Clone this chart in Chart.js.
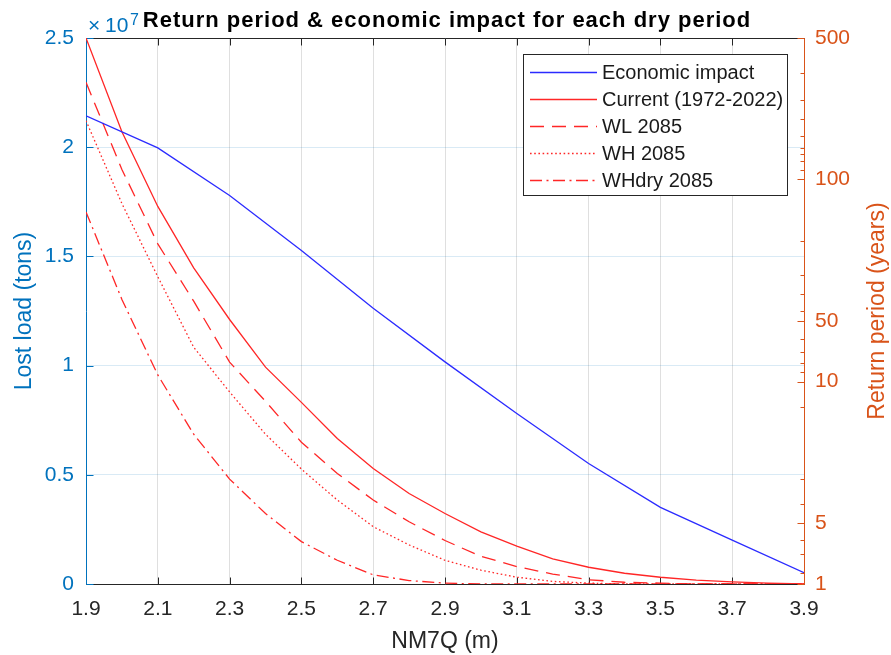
<!DOCTYPE html>
<html>
<head>
<meta charset="utf-8">
<script src="https://cdn.jsdelivr.net/npm/chart.js@4/dist/chart.umd.min.js"></script>
<style>
  html, body { margin: 0; padding: 0; background: #ffffff; }
  canvas { display: block; }
</style>
</head>
<body>
<canvas id="chart" width="891" height="655"></canvas>
<script>
// NM7Q water level (m)
const depthTicks  = [1.9, 2.1, 2.3, 2.5, 2.7, 2.9, 3.1, 3.3, 3.5, 3.7, 3.9];
const depthCoarse = [1.9, 2.1, 2.3, 2.5, 2.7, 2.9, 3.1, 3.3, 3.5, 3.7, 3.9];
const depthFine   = [1.9, 2.0, 2.1, 2.2, 2.3, 2.4, 2.5, 2.6, 2.7, 2.8, 2.9,
                     3.0, 3.1, 3.2, 3.3, 3.4, 3.5, 3.6, 3.7, 3.8, 3.9];

// Lost load (tons) per NM7Q level
const economicImpact = [2.144e7, 1.997e7, 1.779e7, 1.527e7, 1.263e7, 1.017e7,
                        0.781e7, 0.552e7, 0.351e7, 0.201e7, 0.052e7];

// Return periods (years) per NM7Q level
const currentRP = [500, 172, 73.5, 36.5, 20.3, 11.8, 7.9, 5.24, 3.72, 2.80, 2.23,
                   1.81, 1.54, 1.33, 1.21, 1.13, 1.08, 1.045, 1.025, 1.01, 1.0];
const wl2085RP  = [302, 112, 48, 25, 12.5, 8.0, 5.02, 3.52, 2.60, 2.03, 1.64,
                   1.37, 1.22, 1.12, 1.05, 1.02, 1.01, 1.0, 1.0, 1.0, 1.0];
const wh2085RP  = [195, 76, 33, 14.8, 8.9, 5.5, 3.7, 2.6, 1.92, 1.56, 1.31,
                   1.17, 1.08, 1.03, 1.01, 1.0, 1.0, 1.0, 1.0, 1.0, 1.0];
const whdryRP   = [69, 25.5, 10.8, 5.5, 3.3, 2.23, 1.62, 1.31, 1.11, 1.04, 1.01,
                   1.0, 1.0, 1.0, 1.0, 1.0, 1.0, 1.0, 1.0, 1.0, 1.0];

// Axis ticks
const lostLoadTicks    = [0, 0.5e7, 1e7, 1.5e7, 2e7, 2.5e7];
const returnTickValues = [1, 2, 10, 20, 100, 500];
const returnTickLabels = ['1', '5', '10', '50', '100', '500'];
const returnMinorTicks = [1.13, 1.40, 1.65, 2.48, 3.3, 7.5, 11.2, 12.4, 14.0, 16.3,
                          22.3, 27.2, 33.5, 49.5, 111, 123, 133, 143, 164, 200, 248, 334];

const BLUE_AXIS = '#0072BD';
const ORANGE_AXIS = '#D95319';
const DARK = '#262626';
const FONT = "'Liberation Sans', Arial, Helvetica, sans-serif";
const LINE_BLUE = '#2b2bff';
const LINE_RED = '#ff2626';

const pairs = (xs, ys) => xs.map((x, i) => ({ x: x, y: ys[i] }));

const datasets = [
  { label: 'Economic impact', data: pairs(depthCoarse, economicImpact), yAxisID: 'y',
    borderColor: LINE_BLUE, borderWidth: 1.3, borderDash: [] },
  { label: 'Current (1972-2022)', data: pairs(depthFine, currentRP), yAxisID: 'y2',
    borderColor: LINE_RED, borderWidth: 1.3, borderDash: [] },
  { label: 'WL 2085', data: pairs(depthFine, wl2085RP), yAxisID: 'y2',
    borderColor: LINE_RED, borderWidth: 1.3, borderDash: [14, 8] },
  { label: 'WH 2085', data: pairs(depthFine, wh2085RP), yAxisID: 'y2',
    borderColor: LINE_RED, borderWidth: 1.3, borderDash: [1.6, 2.6] },
  { label: 'WHdry 2085', data: pairs(depthFine, whdryRP), yAxisID: 'y2',
    borderColor: LINE_RED, borderWidth: 1.3, borderDash: [12, 4.5, 2, 4.5] }
].map(d => Object.assign(d, { pointRadius: 0, tension: 0, fill: false }));

const crisp = v => Math.round(v) + 0.5;

function seg(ctx, x1, y1, x2, y2) {
  ctx.beginPath();
  ctx.moveTo(x1, y1);
  ctx.lineTo(x2, y2);
  ctx.stroke();
}

// Box, axis lines and inward tick marks
const axesFrame = {
  id: 'axesFrame',
  beforeDatasetsDraw(chart) {
    const { ctx, chartArea: a, scales } = chart;
    const L = crisp(a.left), R = crisp(a.right), T = crisp(a.top), B = crisp(a.bottom);
    ctx.save();
    ctx.lineWidth = 1;
    ctx.strokeStyle = DARK;
    seg(ctx, L, T, R, T);
    seg(ctx, L, B, R, B);
    depthTicks.forEach(v => {
      const px = crisp(scales.x.getPixelForValue(v));
      seg(ctx, px, B, px, B - 7);
      seg(ctx, px, T, px, T + 7);
    });
    ctx.strokeStyle = BLUE_AXIS;
    seg(ctx, L, T, L, B);
    lostLoadTicks.forEach(v => {
      const py = crisp(scales.y.getPixelForValue(v));
      seg(ctx, L, py, L + 7, py);
    });
    ctx.strokeStyle = ORANGE_AXIS;
    seg(ctx, R, T, R, B);
    returnTickValues.forEach(v => {
      const py = crisp(scales.y2.getPixelForValue(v));
      seg(ctx, R, py, R - 7, py);
    });
    returnMinorTicks.forEach(v => {
      const py = crisp(scales.y2.getPixelForValue(v));
      seg(ctx, R, py, R - 4, py);
    });
    ctx.restore();
  }
};

// Legend box inside the plot area
const insetLegend = {
  id: 'insetLegend',
  afterDatasetsDraw(chart) {
    const { ctx } = chart;
    const box = { x: 523.5, y: 54.5, w: 264, h: 141 };
    ctx.save();
    ctx.fillStyle = '#ffffff';
    ctx.fillRect(box.x, box.y, box.w, box.h);
    ctx.strokeStyle = DARK;
    ctx.lineWidth = 1;
    ctx.strokeRect(box.x, box.y, box.w, box.h);
    ctx.font = '20px ' + FONT;
    ctx.textBaseline = 'middle';
    ctx.textAlign = 'left';
    chart.data.datasets.forEach((ds, i) => {
      const y = 72.5 + i * 27;
      ctx.strokeStyle = ds.borderColor;
      ctx.lineWidth = ds.borderWidth;
      ctx.setLineDash(ds.borderDash || []);
      seg(ctx, 530, y, 597, y);
      ctx.setLineDash([]);
      ctx.fillStyle = '#1a1a1a';
      ctx.fillText(ds.label, 602, y + 1);
    });
    ctx.restore();
  }
};

// Title, exponent marker and axis titles
const labelsPlugin = {
  id: 'labelsPlugin',
  afterDraw(chart) {
    const { ctx, chartArea: a } = chart;
    const cx = (a.left + a.right) / 2;
    const cy = (a.top + a.bottom) / 2;
    ctx.save();
    ctx.textBaseline = 'alphabetic';

    ctx.fillStyle = '#000000';
    ctx.textAlign = 'center';
    ctx.font = 'bold 22px ' + FONT;
    ctx.letterSpacing = '1px';
    ctx.fillText('Return period & economic impact for each dry period', cx + 2, 27);
    ctx.letterSpacing = '0px';

    ctx.fillStyle = BLUE_AXIS;
    ctx.textAlign = 'left';
    ctx.font = '21px ' + FONT;
    ctx.fillText('\u00d7', 88, 32);
    ctx.fillText('10', 105, 32);
    ctx.font = '16px ' + FONT;
    ctx.fillText('7', 130, 25);

    ctx.fillStyle = DARK;
    ctx.textAlign = 'center';
    ctx.font = '23px ' + FONT;
    ctx.fillText('NM7Q (m)', cx, 648);

    ctx.save();
    ctx.translate(31, cy);
    ctx.rotate(-Math.PI / 2);
    ctx.fillStyle = BLUE_AXIS;
    ctx.fillText('Lost load (tons)', 0, 0);
    ctx.restore();

    ctx.save();
    ctx.translate(884, cy);
    ctx.rotate(-Math.PI / 2);
    ctx.fillStyle = ORANGE_AXIS;
    ctx.fillText('Return period (years)', 0, 0);
    ctx.restore();

    ctx.restore();
  }
};

new Chart(document.getElementById('chart'), {
  type: 'line',
  data: { datasets: datasets },
  options: {
    responsive: false,
    animation: false,
    devicePixelRatio: 1,
    layout: { padding: { top: 38, left: 0, right: 0, bottom: 0 } },
    plugins: { legend: { display: false }, title: { display: false }, tooltip: { enabled: false } },
    scales: {
      x: {
        type: 'linear', min: 1.9, max: 3.9,
        afterBuildTicks: s => { s.ticks = depthTicks.map(v => ({ value: v })); },
        afterFit: s => { s.height = 71; },
        ticks: { callback: v => v.toFixed(1), color: DARK, font: { family: FONT, size: 21 },
                 padding: 13, maxRotation: 0, autoSkip: false },
        grid: { color: 'rgba(38,38,38,0.15)', lineWidth: 1, drawTicks: false },
        border: { display: false }
      },
      y: {
        type: 'linear', position: 'left', min: 0, max: 2.5e7,
        afterBuildTicks: s => { s.ticks = lostLoadTicks.map(v => ({ value: v })); },
        afterFit: s => { s.width = 86; },
        ticks: { callback: v => String(Math.round(v / 1e6) / 10), color: BLUE_AXIS,
                 font: { family: FONT, size: 21 }, padding: 12 },
        grid: { color: 'rgba(0,114,189,0.15)', lineWidth: 1, drawTicks: false },
        border: { display: false }
      },
      y2: {
        type: 'logarithmic', position: 'right', min: 1, max: 500,
        afterBuildTicks: s => { s.ticks = returnTickValues.map(v => ({ value: v })); },
        afterFit: s => { s.width = 87; },
        ticks: { callback: v => returnTickLabels[returnTickValues.indexOf(v)], color: ORANGE_AXIS,
                 font: { family: FONT, size: 21 }, padding: 11 },
        grid: { display: false, drawTicks: false },
        border: { display: false }
      }
    }
  },
  plugins: [axesFrame, insetLegend, labelsPlugin]
});
</script>
</body>
</html>
